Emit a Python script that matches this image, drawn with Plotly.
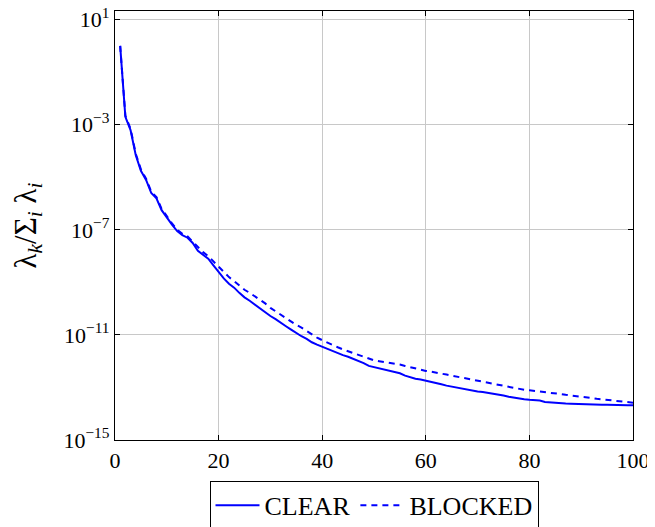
import plotly.graph_objects as go

k = list(range(1, 101))

# log10 of normalized eigenvalues lambda_k / sum_i lambda_i
clear_log10 = [
    0.0, -2.7, -3.2, -4.15, -4.75, -5.1, -5.6, -5.8, -6.25, -6.55,
    -6.8, -7.05, -7.2, -7.3, -7.5, -7.8, -7.95, -8.1, -8.35, -8.6,
    -8.85, -9.05, -9.2, -9.4, -9.57, -9.7, -9.85, -9.98, -10.15, -10.28,
    -10.4, -10.55, -10.67, -10.8, -10.93, -11.05, -11.15, -11.28, -11.37, -11.45,
    -11.55, -11.62, -11.7, -11.77, -11.83, -11.9, -11.98, -12.07, -12.18, -12.23,
    -12.27, -12.32, -12.38, -12.42, -12.46, -12.55, -12.62, -12.67, -12.7, -12.74,
    -12.78, -12.83, -12.88, -12.93, -12.97, -13.0, -13.05, -13.08, -13.12, -13.15,
    -13.17, -13.2, -13.24, -13.28, -13.31, -13.35, -13.39, -13.42, -13.45, -13.47,
    -13.48, -13.5, -13.55, -13.57, -13.58, -13.6, -13.61, -13.62, -13.63, -13.64,
    -13.64, -13.65, -13.65, -13.66, -13.66, -13.67, -13.67, -13.67, -13.68, -13.68,
]

blocked_log10 = [
    0.0, -2.65, -3.15, -4.1, -4.7, -5.05, -5.55, -5.75, -6.2, -6.5,
    -6.75, -7.0, -7.15, -7.25, -7.45, -7.68, -7.85, -8.0, -8.2, -8.42,
    -8.6, -8.8, -8.95, -9.12, -9.28, -9.4, -9.53, -9.65, -9.8, -9.97,
    -10.1, -10.25, -10.38, -10.5, -10.62, -10.72, -10.85, -10.98, -11.1, -11.2,
    -11.3, -11.38, -11.47, -11.55, -11.62, -11.7, -11.77, -11.85, -11.92, -11.97,
    -12.0, -12.03, -12.07, -12.1, -12.13, -12.18, -12.23, -12.28, -12.33, -12.37,
    -12.4, -12.43, -12.47, -12.51, -12.55, -12.59, -12.62, -12.66, -12.7, -12.74,
    -12.78, -12.82, -12.86, -12.9, -12.94, -12.98, -13.02, -13.06, -13.09, -13.11,
    -13.13, -13.15, -13.17, -13.2, -13.22, -13.25, -13.28, -13.3, -13.33, -13.36,
    -13.38, -13.4, -13.43, -13.45, -13.47, -13.5, -13.52, -13.54, -13.56, -13.58,
]

x_ticks = [0, 20, 40, 60, 80, 100]
y_tick_exps = [1, -3, -7, -11, -15]

clear = [10 ** v for v in clear_log10]
blocked = [10 ** v for v in blocked_log10]

FONT = "Liberation Serif"

fig = go.Figure()
fig.add_trace(go.Scatter(x=k, y=clear, mode="lines", name="CLEAR",
                         line=dict(color="#0000ff", width=2)))
fig.add_trace(go.Scatter(x=k, y=blocked, mode="lines", name="BLOCKED",
                         line=dict(color="#0000ff", width=2, dash="6px,5px")))

fig.update_layout(
    width=647, height=519,
    margin=dict(l=107, r=22, t=3, b=87, autoexpand=False),
    paper_bgcolor="white", plot_bgcolor="white",
    font=dict(family=FONT, size=22, color="black"),
    showlegend=True,
    legend=dict(orientation="h", x=0.5, xanchor="center", y=-0.095, yanchor="top",
                bordercolor="black", borderwidth=1, font=dict(family=FONT, size=26),
                itemwidth=44, tracegroupgap=0),
)
fig.update_xaxes(range=[0, 100], tickvals=x_ticks, showgrid=True, gridcolor="#c8c8c8",
                 gridwidth=1, showline=True, linecolor="black", linewidth=1.2, mirror="ticks",
                 ticks="inside", ticklen=5, tickcolor="black", zeroline=False,
                 ticklabeloverflow="allow",
                 tickfont=dict(family=FONT, size=22))
fig.update_yaxes(type="log", range=[-15, 1.33],
                 tickvals=[10 ** e for e in y_tick_exps],
                 ticktext=["10<sup>%s</sup>" % (str(e).replace("-", "\u2212")) for e in y_tick_exps],
                 showgrid=True, gridcolor="#c8c8c8", gridwidth=1,
                 showline=True, linecolor="black", linewidth=1.2, mirror="ticks",
                 ticks="inside", ticklen=5, tickcolor="black", zeroline=False,
                 ticklabeloverflow="allow",
                 tickfont=dict(family=FONT, size=22),
                 title=dict(text="λ<sub><i>k</i></sub>/Σ<sub><i>i</i></sub> λ<sub><i>i</i></sub>",
                            font=dict(family=FONT, size=31), standoff=25))

fig.write_html("out.html")
